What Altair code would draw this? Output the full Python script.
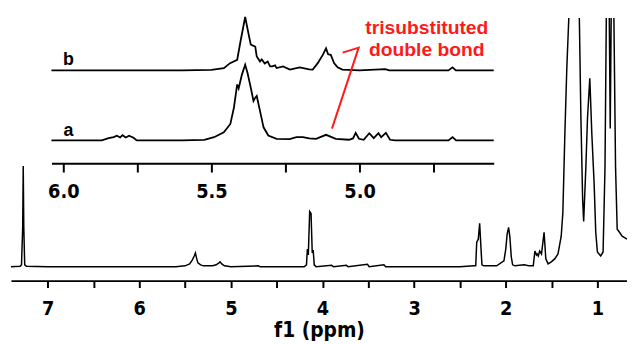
import altair as alt
import pandas as pd

# ---------------- main 1H spectrum (ppm, intensity) ----------------
main_ppm = [7.40, 7.30, 7.285, 7.272, 7.266, 7.260, 7.250, 7.23, 7.0, 6.5, 6.0, 5.60, 5.50, 5.45, 5.42,
            5.40, 5.387, 5.375, 5.36, 5.33, 5.30, 5.25, 5.20, 5.16, 5.13, 5.118, 5.10, 5.07, 5.0, 4.70,
            4.68, 4.40, 4.20, 4.175, 4.165, 4.155, 4.14, 4.125, 4.112, 4.102, 4.09, 4.07, 3.90, 3.88,
            3.74, 3.72, 3.51, 3.49, 3.33, 3.31, 2.50, 2.35, 2.328, 2.317, 2.300, 2.285, 2.27, 2.26,
            2.24, 2.10, 2.02, 2.00, 1.985, 1.969, 1.955, 1.94, 1.925, 1.90, 1.80, 1.75, 1.70, 1.682,
            1.665, 1.657, 1.645, 1.63, 1.61, 1.582, 1.563, 1.538, 1.503, 1.466, 1.43, 1.395, 1.377,
            1.355, 1.334, 1.312, 1.28, 1.26, 1.23, 1.197, 1.18, 1.161, 1.150, 1.126, 1.108, 1.083,
            1.061, 1.036, 1.018, 1.0, 0.964, 0.938, 0.917, 0.903, 0.889, 0.87, 0.86, 0.85, 0.838,
            0.82, 0.802, 0.784, 0.759, 0.73, 0.677]
main_int = [0, 0.5, 2, 40, 102, 40, 2, 0.5, 0, 0, 0, 0, 1, 3, 7,
            11, 14, 9, 4, 2, 1, 1, 1, 2, 4, 5, 3, 1, 0, 1,
            0, 0, 0, 2, 18, 12, 56, 54, 14, 17, 2, 0, 1.5, 0,
            1.5, 0, 2.5, 0, 2, 0, 0, 1, 1, 25, 28, 44, 18, 2,
            1, 1, 6, 18, 33, 40, 30, 10, 2, 1, 2, 1, 1, 16,
            12, 13, 11, 16, 13, 35, 8, 3, 5, 8, 13, 31, 55,
            135, 201, 252, 500, 700, 500, 251, 151, 68, 46, 101, 151, 191,
            135, 85, 35, 15, 11, 15, 101, 251, 450, 250, 140, 250, 450,
            252, 101, 38, 35, 31, 28]

# ---------------- inset traces ----------------
b_ppm = [6.04, 5.60, 5.50, 5.458, 5.437, 5.413, 5.402, 5.386, 5.374, 5.367, 5.352, 5.347, 5.336,
         5.33, 5.32, 5.31, 5.302, 5.295, 5.285, 5.28, 5.258, 5.235, 5.202, 5.17, 5.158, 5.141,
         5.124, 5.113, 5.106, 5.097, 5.086, 5.074, 5.058, 5.0, 4.913, 4.90, 4.70, 4.686, 4.675, 4.547]
b_int = [0, 0, 0.5, 2.3, 7.3, 10.7, 29, 54, 36, 26, 24, 14, 9,
         11, 7, 9, 4, 4, 5, 2.3, 4, 0.7, 3, 1, 0.7, 7.3,
         15.7, 22.3, 16.3, 15.7, 7.3, 3, 0.7, 0, 1.3, 0, 0, 3, 0, 0]

a_ppm = [6.04, 5.87, 5.847, 5.83, 5.819, 5.808, 5.80, 5.789, 5.778, 5.763, 5.752, 5.60, 5.524,
         5.491, 5.458, 5.436, 5.424, 5.413, 5.408, 5.397, 5.386, 5.378, 5.367, 5.358, 5.352,
         5.347, 5.336, 5.324, 5.308, 5.28, 5.236, 5.213, 5.191, 5.17, 5.147, 5.113, 5.08, 5.036,
         5.022, 5.013, 5.002, 4.986, 4.967, 4.952, 4.936, 4.927, 4.911, 4.897, 4.88, 4.70, 4.686,
         4.674, 4.547]
a_int = [0, 0, 2.3, 3.3, 4.7, 3, 5.3, 3, 4.7, 2.7, 0, 0, 0.5,
         3.3, 8.3, 16.7, 33.3, 56.7, 52.7, 66.7, 76.7, 68.3, 53.3, 40, 43.3,
         45, 30, 13.3, 5, 1.7, 1.3, 3.3, 3.3, 2, 1.7, 5.7, 1.7, 0.7,
         2, 7.7, 1.7, 0.7, 7.3, 2.3, 7.3, 3.3, 7.7, 0.7, 0, 0, 3.3,
         0, 0]

trace_names = ["a", "b"]
main_ticks = [7, 6.5, 6, 5.5, 5, 4.5, 4, 3.5, 3, 2.5, 2, 1.5, 1]
inset_ticks = [6.0, 5.75, 5.5, 5.25, 5.0, 4.75]

annot_lines = ["trisubstituted", "double bond"]
pointer_ppm = [5.057, 5.003, 5.093]
pointer_val = [217, 222, 140]

# ---------------- layout constants ----------------
W, H = 624, 266
OFFSET = {"a": 128, "b": 199}
FONT_AX = "DejaVu Sans Condensed, DejaVu Sans"
FONT_TX = "Liberation Sans, Arial"

main_df = pd.DataFrame({"ppm": main_ppm, "y": main_int})
inset_df = pd.concat([
    pd.DataFrame({"ppm": a_ppm, "y": [v + OFFSET["a"] for v in a_int], "trace": "a"}),
    pd.DataFrame({"ppm": b_ppm, "y": [v + OFFSET["b"] for v in b_int], "trace": "b"}),
], ignore_index=True)
label_df = pd.DataFrame({"ppm": [5.983, 5.983], "y": [OFFSET[t] + 5 for t in trace_names],
                         "t": trace_names})
ptr_df = pd.DataFrame({"ppm": pointer_ppm, "y": pointer_val, "i": [0, 1, 2]})
txt_df = pd.DataFrame({"ppm": [4.773, 4.773], "y": [236, 214], "t": annot_lines})

yscale = alt.Scale(domain=[-14, 252], nice=False, zero=False)
xmain = alt.Scale(domain=[7.4, 0.677], nice=False, zero=False)
xinset = alt.Scale(domain=[6.04, 4.547], range=[41, 489], nice=False, zero=False)

main_axis = alt.Axis(orient="bottom", values=main_ticks,
                     labelExpr="datum.value % 1 == 0 ? format(datum.value, 'd') : ''",
                     tickSize=7, tickWidth=2, tickColor="black", domainColor="black",
                     domainWidth=2, labelFont=FONT_AX, labelFontSize=20, labelFontWeight="bold",
                     labelColor="black", labelPadding=11, grid=False,
                     titleFont=FONT_AX, titleFontSize=21, titleFontWeight="bold",
                     titleColor="black", titlePadding=2)
inset_axis = alt.Axis(orient="bottom", offset=-119, values=inset_ticks,
                      labelExpr="(datum.value * 100) % 50 == 0 ? format(datum.value, '.1f') : ''",
                      tickSize=9, tickWidth=2, tickColor="black", domainColor="black",
                      domainWidth=2, labelFont=FONT_AX, labelFontSize=20, labelFontWeight="bold",
                      labelColor="black", labelPadding=10, grid=False, title=None)

main = alt.Chart(main_df).mark_line(clip=True, color="black", strokeWidth=1.5).encode(
    x=alt.X("ppm:Q", scale=xmain, axis=main_axis, title="f1 (ppm)"),
    y=alt.Y("y:Q", scale=yscale, axis=None),
)
inset = alt.Chart(inset_df).mark_line(color="black", strokeWidth=1.8).encode(
    x=alt.X("ppm:Q", scale=xinset, axis=inset_axis),
    y=alt.Y("y:Q", scale=yscale, axis=None),
    detail="trace:N",
)
labels = alt.Chart(label_df).mark_text(font=FONT_TX, fontSize=18, fontWeight="bold",
                                       color="black", align="center", baseline="alphabetic").encode(
    x=alt.X("ppm:Q", scale=xinset, axis=None),
    y=alt.Y("y:Q", scale=yscale, axis=None),
    text="t:N",
)
pointer = alt.Chart(ptr_df).mark_line(color="#ff1a1a", strokeWidth=2).encode(
    x=alt.X("ppm:Q", scale=xinset, axis=None),
    y=alt.Y("y:Q", scale=yscale, axis=None),
    order="i:Q",
)
annot = alt.Chart(txt_df).mark_text(font=FONT_TX, fontSize=19.5, fontWeight="bold",
                                    color="#ff1a1a", align="center", baseline="alphabetic").encode(
    x=alt.X("ppm:Q", scale=xinset, axis=None),
    y=alt.Y("y:Q", scale=yscale, axis=None),
    text="t:N",
)

chart = alt.layer(main, inset, labels, pointer, annot).resolve_scale(
    x="independent"
).properties(
    width=W, height=H,
    autosize=alt.AutoSizeParams(type="none"),
    padding={"left": 3, "top": 8, "right": 0, "bottom": 60},
).configure_view(stroke=None)

chart.save("out.html", embed_options={"renderer": "svg", "actions": False})
